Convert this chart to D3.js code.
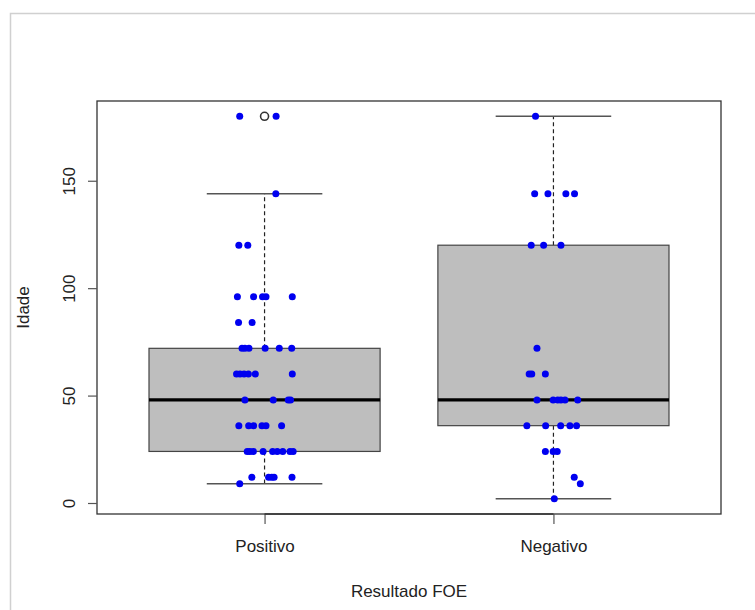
<!DOCTYPE html>
<html>
<head>
<meta charset="utf-8">
<script src="https://cdn.jsdelivr.net/npm/d3@7"></script>
<style>
  body { margin: 0; background: #fff; }
  text { font-family: "Liberation Sans", Arial, sans-serif; fill: #222; }
</style>
</head>
<body>
<div id="viz"></div>
<script>
// categories and ages (months)
const categories = ["Positivo", "Negativo"];

const positivoValues = [180, 180, 144, 120, 120,
  96, 96, 96, 96, 96, 84, 84,
  72, 72, 72, 72, 72, 72,
  60, 60, 60, 60, 60, 60,
  48, 48, 48, 48,
  36, 36, 36, 36, 36, 36,
  24, 24, 24, 24, 24, 24, 24, 24, 24,
  12, 12, 12, 12, 12, 9];
// horizontal jitter of each point, in category units
const positivoJitter = [-0.086, 0.040, 0.039, -0.089, -0.058,
  -0.094, -0.038, -0.007, 0.005, 0.096, -0.090, -0.043,
  -0.078, -0.068, -0.054, 0.002, 0.051, 0.094,
  -0.097, -0.085, -0.071, -0.056, -0.032, 0.096,
  -0.068, 0.030, 0.082, 0.090,
  -0.089, -0.055, -0.038, -0.009, 0.005, 0.059,
  -0.060, -0.051, -0.039, -0.005, 0.028, 0.044, 0.063, 0.088, 0.099,
  -0.044, 0.014, 0.025, 0.033, 0.095, -0.086];

const negativoValues = [180, 144, 144, 144, 144, 120, 120, 120,
  72, 60, 60, 60,
  48, 48, 48, 48, 48, 48,
  36, 36, 36, 36, 36,
  24, 24, 24, 12, 9, 2];
const negativoJitter = [-0.062, -0.065, -0.019, 0.043, 0.073, -0.077, -0.034, 0.026,
  -0.057, -0.084, -0.075, -0.028,
  -0.057, -0.001, 0.015, 0.026, 0.040, 0.084,
  -0.092, -0.027, 0.025, 0.057, 0.080,
  -0.028, -0.001, 0.013, 0.072, 0.093, 0.003];

const yTicks = [0, 50, 100, 150];

const groups = [
  {name: categories[0], values: positivoValues, jitter: positivoJitter},
  {name: categories[1], values: negativoValues, jitter: negativoJitter}
];

const width = 755, height = 610;
const plot = {left: 97, right: 721, top: 101, bottom: 514};

const svg = d3.select("#viz").append("svg")
  .attr("width", width)
  .attr("height", height);

// thin frame around the picture
svg.append("path")
  .attr("d", "M10.5," + height + "V13.5H" + width)
  .attr("fill", "none")
  .attr("stroke", "#d0d0d0")
  .attr("stroke-width", 1.5);

// R-like fivenum (Tukey hinges)
const fivenum = (arr) => {
  const x = arr.slice().sort(d3.ascending);
  const n = x.length;
  const n4 = Math.floor((n + 3) / 2) / 2;
  return [1, n4, (n + 1) / 2, n + 1 - n4, n].map(d =>
    0.5 * (x[Math.floor(d) - 1] + x[Math.ceil(d) - 1]));
};

groups.forEach(g => {
  const f = fivenum(g.values);
  const iqr = f[3] - f[1];
  const inside = g.values.filter(v => v >= f[1] - 1.5 * iqr && v <= f[3] + 1.5 * iqr);
  g.stats = {lo: d3.min(inside), q1: f[1], med: f[2], q3: f[3], hi: d3.max(inside)};
  g.outliers = Array.from(new Set(g.values.filter(v => v < g.stats.lo || v > g.stats.hi)));
});

// scales (R pads the range by 4%)
const allValues = positivoValues.concat(negativoValues);
const yMin = d3.min(allValues), yMax = d3.max(allValues);
const yPad = (yMax - yMin) * 0.04;
const y = d3.scaleLinear()
  .domain([yMin - yPad, yMax + yPad])
  .range([plot.bottom, plot.top]);

const x = d3.scaleLinear()
  .domain([0.5 - 0.08, categories.length + 0.5 + 0.08])
  .range([plot.left, plot.right]);

const boxW = 0.8;

const boxes = svg.append("g");
groups.forEach((g, i) => {
  const c = i + 1;
  const s = g.stats;
  // whiskers
  [[s.q1, s.lo], [s.q3, s.hi]].forEach(([a, b]) => {
    boxes.append("line")
      .attr("x1", x(c)).attr("x2", x(c))
      .attr("y1", y(a)).attr("y2", y(b))
      .attr("stroke", "#222").attr("stroke-width", 1.2)
      .attr("stroke-dasharray", "4,3");
    boxes.append("line")
      .attr("x1", x(c - boxW / 4)).attr("x2", x(c + boxW / 4))
      .attr("y1", y(b)).attr("y2", y(b))
      .attr("stroke", "#555").attr("stroke-width", 1.5);
  });
  // box
  boxes.append("rect")
    .attr("x", x(c - boxW / 2))
    .attr("y", y(s.q3))
    .attr("width", x(c + boxW / 2) - x(c - boxW / 2))
    .attr("height", y(s.q1) - y(s.q3))
    .attr("fill", "#bebebe")
    .attr("stroke", "#444").attr("stroke-width", 1.2);
  // median
  boxes.append("line")
    .attr("x1", x(c - boxW / 2)).attr("x2", x(c + boxW / 2))
    .attr("y1", y(s.med)).attr("y2", y(s.med))
    .attr("stroke", "#000").attr("stroke-width", 3.2);
  // outliers
  g.outliers.forEach(v => {
    boxes.append("circle")
      .attr("cx", x(c)).attr("cy", y(v)).attr("r", 4)
      .attr("fill", "none").attr("stroke", "#333").attr("stroke-width", 1.6);
  });
});

// jittered points on top
groups.forEach((g, i) => {
  svg.append("g").selectAll("circle")
    .data(g.values.map((v, j) => ({v: v, dx: g.jitter[j]})))
    .enter().append("circle")
    .attr("cx", d => x(i + 1 + d.dx))
    .attr("cy", d => y(d.v))
    .attr("r", 3.5)
    .attr("fill", "#0000f0");
});

// plot frame
svg.append("rect")
  .attr("x", plot.left).attr("y", plot.top)
  .attr("width", plot.right - plot.left)
  .attr("height", plot.bottom - plot.top)
  .attr("fill", "none")
  .attr("stroke", "#333").attr("stroke-width", 1.3);

// y axis
const yAxis = svg.append("g")
  .attr("transform", "translate(" + plot.left + ",0)")
  .call(d3.axisLeft(y).tickValues(yTicks).tickSize(9).tickPadding(0));
yAxis.select(".domain").remove();
yAxis.selectAll(".tick line").attr("stroke", "#555").attr("stroke-width", 1.2);
yAxis.selectAll(".tick text")
  .attr("x", 0).attr("y", 0).attr("dy", null)
  .attr("transform", "translate(-28,0) rotate(-90)")
  .attr("text-anchor", "middle")
  .attr("dominant-baseline", "central")
  .style("font-size", "17px")
  .style("font-family", "'Liberation Sans', Arial, sans-serif")
  .attr("fill", "#222");

// x axis
const xAxis = svg.append("g")
  .attr("transform", "translate(0," + plot.bottom + ")")
  .call(d3.axisBottom(x).tickValues(d3.range(1, categories.length + 1))
    .tickFormat(d => categories[d - 1]).tickSize(10).tickPadding(16));
xAxis.select(".domain").remove();
xAxis.selectAll(".tick line").attr("stroke", "#555").attr("stroke-width", 1.2);
xAxis.selectAll(".tick text")
  .style("font-size", "17px")
  .style("font-family", "'Liberation Sans', Arial, sans-serif")
  .attr("fill", "#222");
xAxis.append("line")
  .attr("x1", x(1)).attr("x2", x(categories.length))
  .attr("stroke", "#333").attr("stroke-width", 1.3);

// axis titles
svg.append("text")
  .attr("x", (plot.left + plot.right) / 2)
  .attr("y", 597)
  .attr("text-anchor", "middle")
  .style("font-size", "17px")
  .text("Resultado FOE");

svg.append("text")
  .attr("transform", "translate(29," + ((plot.top + plot.bottom) / 2) + ") rotate(-90)")
  .attr("text-anchor", "middle")
  .style("font-size", "17px")
  .text("Idade");
</script>
</body>
</html>
